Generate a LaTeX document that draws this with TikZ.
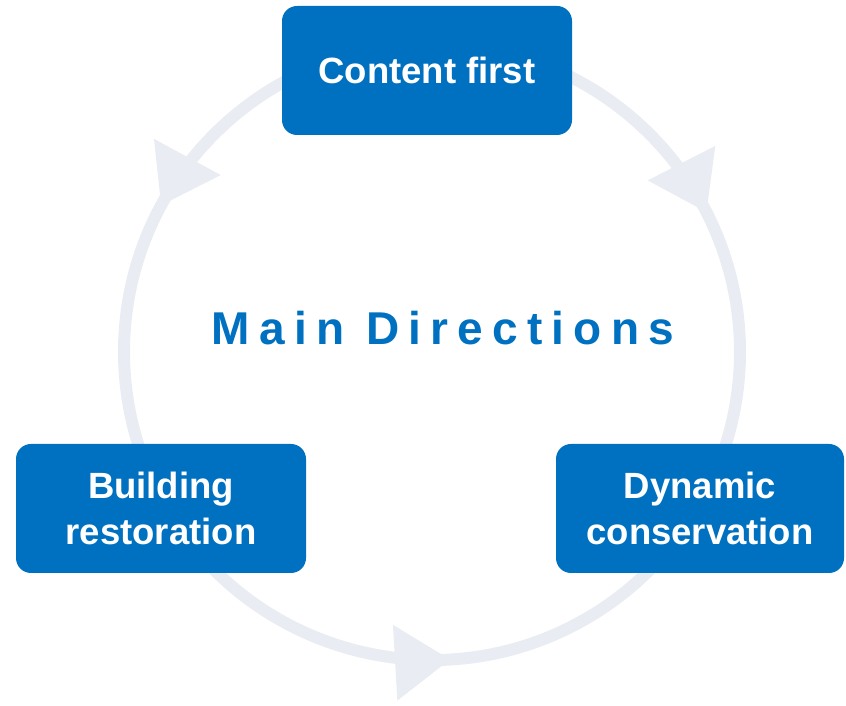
\documentclass[tikz,border=0pt]{standalone}
\usepackage{fontspec}
\setmainfont{Liberation Sans}
\newfontfamily\spacedfont[LetterSpace=20]{Liberation Sans}
\usetikzlibrary{decorations.markings}
\definecolor{boxblue}{HTML}{0070C0}
\definecolor{ringgrey}{HTML}{E9ECF2}
\tikzset{
  dirbox/.style={rounded corners=15pt, fill=boxblue, text=white, minimum width=290pt, minimum height=129pt, inner sep=0pt, align=center, font=\bfseries\fontsize{36.5}{45.5}\selectfont},
  ring/.style={draw=ringgrey, line width=12pt, postaction={decorate}, decoration={markings, mark=at position #1 with {\fill[ringgrey] (0pt,0pt) -- (-55pt,38pt) -- (-55pt,-38pt) -- cycle;}}},
  ring/.default=.52
}
\begin{document}
\begin{tikzpicture}[x=1pt,y=1pt]
\useasboundingbox (0,0) rectangle (846,706);
\coordinate (ctr) at (432,354);
\path (ctr) ++(90:308) coordinate (ptop);
\path (ctr) ++(210:308) coordinate (pleft);
\draw[ring=.513] (ptop) arc[start angle=90, end angle=210, radius=308];
\draw[ring=.525] (ptop) arc[start angle=90, end angle=-30, radius=308];
\draw[ring=.528] (pleft) arc[start angle=210, end angle=330, radius=308];
\node[dirbox] (content) at (427,635.5) {Content first};
\node[dirbox] (building) at (161,197.5) {Building\\restoration};
\node[dirbox, minimum width=288pt] (dynamic) at (700,197.5) {Dynamic\\conservation};
\node[text=boxblue, font=\spacedfont\bfseries\fontsize{46}{55}\selectfont] (title) at (443,378) {Main Directions};
\end{tikzpicture}
\end{document}
